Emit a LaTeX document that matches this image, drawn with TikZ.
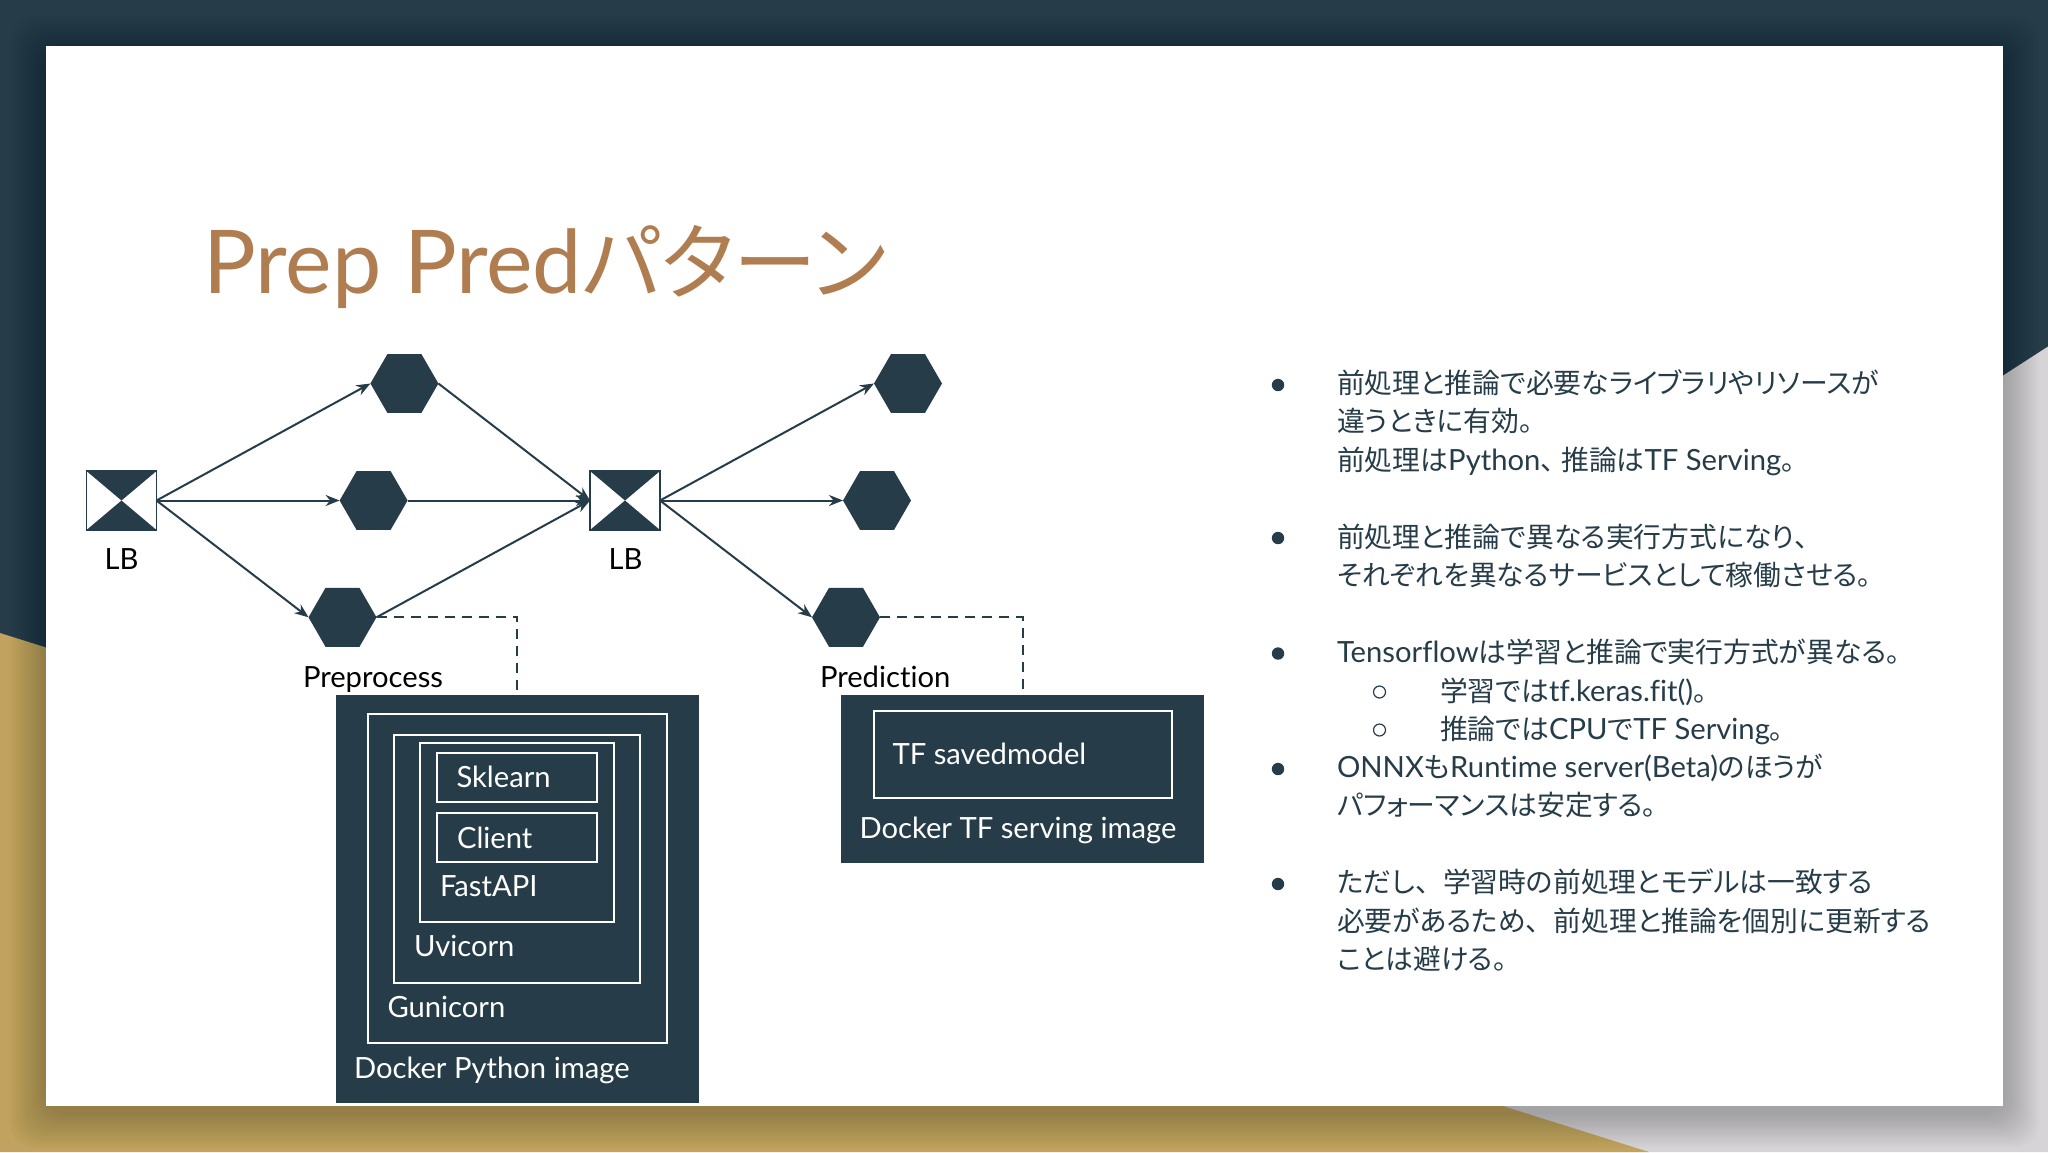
\documentclass[tikz,border=0pt]{standalone}
\usepackage{fontspec}
\setmainfont[Ligatures=NoCommon]{Lato}
\newfontfamily\cjk[RawFeature=+palt,Scale=0.952]{Noto Sans CJK JP}
\newfontfamily\cjkf[Scale=0.952]{Noto Sans CJK JP}
\newcommand{\J}[1]{{\cjk #1}}
\newcommand{\Ten}{{\cjkf 、}}
\newcommand{\Maru}{{\cjkf 。}}
\usetikzlibrary{arrows.meta,shapes.geometric}
\definecolor{navy}{HTML}{263D49}
\definecolor{gold}{HTML}{C1A25E}
\definecolor{paleg}{HTML}{D6D4D7}
\definecolor{titlec}{HTML}{B07D50}
\tikzset{
  hexnode/.style={regular polygon,regular polygon sides=6,minimum size=34pt,inner sep=0pt,outer sep=0pt,fill=navy},
  lbnode/.style={rectangle,minimum width=35pt,minimum height=29.5pt,inner sep=0pt,outer sep=0pt,draw=navy,line width=0.75pt,fill=white,
    path picture={\fill[navy] (path picture bounding box.north west)--(path picture bounding box.north east)--(path picture bounding box.center)--cycle;
      \fill[navy] (path picture bounding box.south west)--(path picture bounding box.south east)--(path picture bounding box.center)--cycle;}},
  arrowline/.style={draw=navy,line width=1pt,-{Stealth[length=7pt,width=5.5pt]}},
  dashline/.style={draw=navy,line width=1pt,dash pattern=on 5pt off 3.5pt},
  darkbox/.style 2 args={rectangle,fill=navy,minimum width=#1*0.5pt,minimum height=#2*0.5pt,inner sep=0pt,outer sep=0pt},
  whitebox/.style 2 args={rectangle,draw=white,line width=1pt,minimum width=#1*0.5pt,minimum height=#2*0.5pt,inner sep=0pt,outer sep=0pt},
  dlabel/.style={anchor=base west,inner sep=0pt,outer sep=0pt,font=\fontsize{14.6}{17}\selectfont},
  blabel/.style={dlabel,text=black},
  wlabel/.style={dlabel,text=white},
  body/.style={anchor=base west,inner sep=0pt,outer sep=0pt,text=navy,font=\fontsize{14.6}{18}\selectfont},
  dot/.style={circle,fill=navy,minimum size=6.2pt,inner sep=0pt,outer sep=0pt},
  ring/.style={circle,draw=navy,line width=0.6pt,minimum size=6pt,inner sep=0pt,outer sep=0pt},
}
\begin{document}
\begin{tikzpicture}[x=0.5pt,y=-0.5pt]
\useasboundingbox (0,0) rectangle (2048,1152);
% background
\fill[navy] (0,0) rectangle (2048,1152);
\fill[paleg] (2048,346.5) -- (1200,895) -- (1200,1152) -- (2048,1152) -- cycle;
\fill[gold] (0,633) -- (1649,1152) -- (0,1152) -- cycle;
% slide shadow
\foreach \d in {2,4,...,36}{
  \fill[black,opacity=0.012,rounded corners=12pt] (46-\d,46-\d+6) rectangle (2003+\d,1106+\d+6);
}
\fill[white] (46,46) rectangle (2003,1106);
% title
\node[anchor=base west,inner sep=0pt,text=titlec,font=\fontsize{44}{52}\selectfont] (title) at (203,293) {Prep Pred\J{パターン}};
% load balancers
\node[lbnode] (lbA) at (121.5,500.5) {};
\node[lbnode] (lbB) at (625,500.5) {};
% hexagons
\node[hexnode] (hA1) at (404.4,383.5) {};
\node[hexnode] (hA2) at (373.6,500.5) {};
\node[hexnode] (hA3) at (342.5,617.3) {};
\node[hexnode] (hB1) at (908,383.5) {};
\node[hexnode] (hB2) at (877,500.5) {};
\node[hexnode] (hB3) at (846,617.3) {};
% containers
\node[darkbox={363.3}{407.4}] (dockerA) at (517.35,899) {};
\node[whitebox={298.5}{328.7}] (guni) at (517.3,878.35) {};
\node[whitebox={245.5}{248}] (uvi) at (517.2,858.5) {};
\node[whitebox={194}{178.7}] (fast) at (517.2,832.65) {};
\node[whitebox={160}{49}] (skl) at (517.2,777.3) {};
\node[whitebox={160}{49}] (cli) at (517.2,837.9) {};
\node[darkbox={363}{168}] (dockerB) at (1022.5,779.4) {};
\node[whitebox={298.5}{87}] (saved) at (1022.8,754) {};
% connectors
\draw[arrowline] (lbA.east) -- (hA1.west);
\draw[arrowline] (lbA.east) -- (hA2.west);
\draw[arrowline] (lbA.east) -- (hA3.west);
\draw[arrowline] (hA1.east) -- (lbB.west);
\draw[arrowline] (hA2.east) -- (lbB.west);
\draw[arrowline] (hA3.east) -- (lbB.west);
\draw[arrowline] (lbB.east) -- (hB1.west);
\draw[arrowline] (lbB.east) -- (hB2.west);
\draw[arrowline] (lbB.east) -- (hB3.west);
\draw[dashline] (hA3.east) -| (dockerA.north);
\draw[dashline] (hB3.east) -| (dockerB.north);
% labels
\node[blabel] (lLBa) at (104.5,569) {LB};
\node[blabel] (lLBb) at (608.5,569) {LB};
\node[blabel] (lPre) at (303,687) {Preprocess};
\node[blabel] (lPred) at (820,687) {Prediction};
\node[wlabel] (tSkl) at (456.5,787.5) {Sklearn};
\node[wlabel] (tCli) at (457,848.3) {Client};
\node[wlabel] (tFast) at (440,896.5) {FastAPI};
\node[wlabel] (tUvi) at (414,956.5) {Uvicorn};
\node[wlabel] (tGuni) at (387.5,1017.5) {Gunicorn};
\node[wlabel] (tDockA) at (354,1078) {Docker Python image};
\node[wlabel] (tSaved) at (892.5,764.5) {TF savedmodel};
\node[wlabel] (tDockB) at (859.5,838.5) {Docker TF serving image};
% right text
\node[dot] (b1) at (1278,385) {};
\node[dot] (b2) at (1278,538) {};
\node[dot] (b3) at (1278,653.5) {};
\node[dot] (b4) at (1278,769) {};
\node[dot] (b5) at (1278,884) {};
\node[ring] (r1) at (1379.5,692) {};
\node[ring] (r2) at (1379.5,730) {};
\node[body] (l1) at (1337,393.5) {\J{前処理と推論で必要なライブラリやリソースが}};
\node[body] (l2) at (1337,431.5) {\J{違うときに有効}\Maru};
\node[body] (l3) at (1337,470.5) {\J{前処理は}Python\Ten\hspace{-3.5pt}\J{推論は}TF Serving\Maru};
\node[body] (l4) at (1337,547.5) {\J{前処理と推論で異なる実行方式になり}\Ten};
\node[body] (l5) at (1337,585.5) {\J{それぞれを異なるサービスとして稼働させる}\Maru};
\node[body] (l6) at (1337,662.5) {Tensorflow\J{は学習と推論で実行方式が異なる}\Maru};
\node[body] (l7) at (1440,701.5) {\J{学習では}tf.keras.fit()\Maru};
\node[body] (l8) at (1440,739.5) {\J{推論では}CPU\J{で}TF Serving\Maru};
\node[body] (l9) at (1337,777.5) {ONNX\J{も}Runtime server(Beta)\J{のほうが}};
\node[body] (l10) at (1337,815.5) {\J{パフォーマンスは安定する}\Maru};
\node[body] (l11) at (1337,892.5) {\J{ただし}\Ten\J{学習時の前処理とモデルは一致する}};
\node[body] (l12) at (1337,931.5) {\J{必要があるため}\Ten\J{前処理と推論を個別に更新する}};
\node[body] (l13) at (1337,969.5) {\J{ことは避ける}\Maru};
\end{tikzpicture}
\end{document}
